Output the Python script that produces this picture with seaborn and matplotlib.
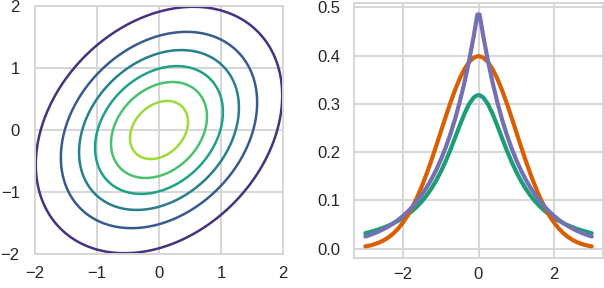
import numpy as np
import pandas as pd
import seaborn as sns
import matplotlib.pyplot as plt

sns.set_theme(style="whitegrid", rc={'grid.linewidth': 1.4, 'axes.linewidth': 1.4,
                                     'grid.color': '#d6d6d6', 'axes.edgecolor': '#d6d6d6'})
plt.rcParams['font.family'] = ['Liberation Sans', 'DejaVu Sans']

# 左图：二维高斯分布的等高线参数
sigma = 1.02
rho = 0.28
levels_rel = [0.15, 0.30, 0.45, 0.60, 0.75, 0.90]

# 右图：三种分布的密度值（从图中读取，x>0 一侧，左右对称）
x_half = [0.03, 0.125, 0.25, 0.375, 0.5, 0.625, 0.75, 0.875, 1.0, 1.125, 1.25, 1.375, 1.5,
          1.625, 1.75, 1.875, 2.0, 2.125, 2.25, 2.375, 2.5, 2.625, 2.75, 2.875, 3.0]
student_half = [0.3180, 0.3134, 0.2996, 0.2791, 0.2546, 0.2289, 0.2037, 0.1803, 0.1592,
                0.1405, 0.1242, 0.1101, 0.0979, 0.0874, 0.0784, 0.0705, 0.0637, 0.0577,
                0.0525, 0.0479, 0.0439, 0.0403, 0.0372, 0.0344, 0.0318]
gauss_half = [0.3988, 0.3958, 0.3867, 0.3719, 0.3521, 0.3282, 0.3011, 0.2721, 0.2420,
              0.2119, 0.1826, 0.1550, 0.1295, 0.1065, 0.0863, 0.0688, 0.0540, 0.0417,
              0.0317, 0.0238, 0.0175, 0.0127, 0.0091, 0.0064, 0.0044]
laplace_half = [0.4852, 0.4412, 0.3894, 0.3436, 0.3033, 0.2676, 0.2362, 0.2084, 0.1839,
                0.1623, 0.1433, 0.1264, 0.1116, 0.0985, 0.0869, 0.0767, 0.0677, 0.0597,
                0.0527, 0.0465, 0.0410, 0.0362, 0.0320, 0.0282, 0.0249]
names = ['Student', 'Gaussian', 'Laplace']
colors = ['#1b9e77', '#d95f02', '#7570b3']


def mirror(half, sign=1):
    # 对称展开到 x<0 一侧
    return [sign * v for v in half[::-1]] + list(half)


def main():
    fig = plt.figure(figsize=(6.04, 2.88), dpi=100)
    ax1 = fig.add_axes([35 / 604, 34 / 288, 248 / 604, 248 / 288])
    ax2 = fig.add_axes([354 / 604, 30 / 288, 249 / 604, 255 / 288])

    # 左图 等高线
    g = np.linspace(-2, 2, 400)
    X, Y = np.meshgrid(g, g)
    m2 = (X ** 2 - 2 * rho * X * Y + Y ** 2) / (sigma ** 2 * (1 - rho ** 2))
    Z = np.exp(-0.5 * m2)
    ax1.contour(X, Y, Z, levels=levels_rel, cmap='viridis', vmin=0.0, vmax=1.05, linewidths=1.8)
    ax1.set_xlim(-2, 2)
    ax1.set_ylim(-2, 2)
    ax1.set_xticks([-2, -1, 0, 1, 2])
    ax1.set_yticks([-2, -1, 0, 1, 2])
    ax1.tick_params(axis='x', length=0, pad=9, labelsize=12)
    ax1.tick_params(axis='y', length=0, pad=11, labelsize=12)

    # 右图 概率密度曲线
    xs = mirror(x_half, -1)
    df = pd.DataFrame({
        'x': xs * 3,
        'y': mirror(student_half) + mirror(gauss_half) + mirror(laplace_half),
        'dist': sum([[n] * len(xs) for n in names], []),
    })
    sns.lineplot(data=df, x='x', y='y', hue='dist', palette=colors, linewidth=3,
                 legend=False, ax=ax2)
    ax2.set_xlabel('')
    ax2.set_ylabel('')
    ax2.set_xticks([-2, 0, 2])
    ax2.set_yticks([0.0, 0.1, 0.2, 0.3, 0.4, 0.5])
    ax2.tick_params(axis='x', length=0, pad=6.5, labelsize=12)
    ax2.tick_params(axis='y', length=0, pad=9.5, labelsize=12)

    fig.savefig('out.png', dpi=100)


if __name__ == '__main__':
    main()
